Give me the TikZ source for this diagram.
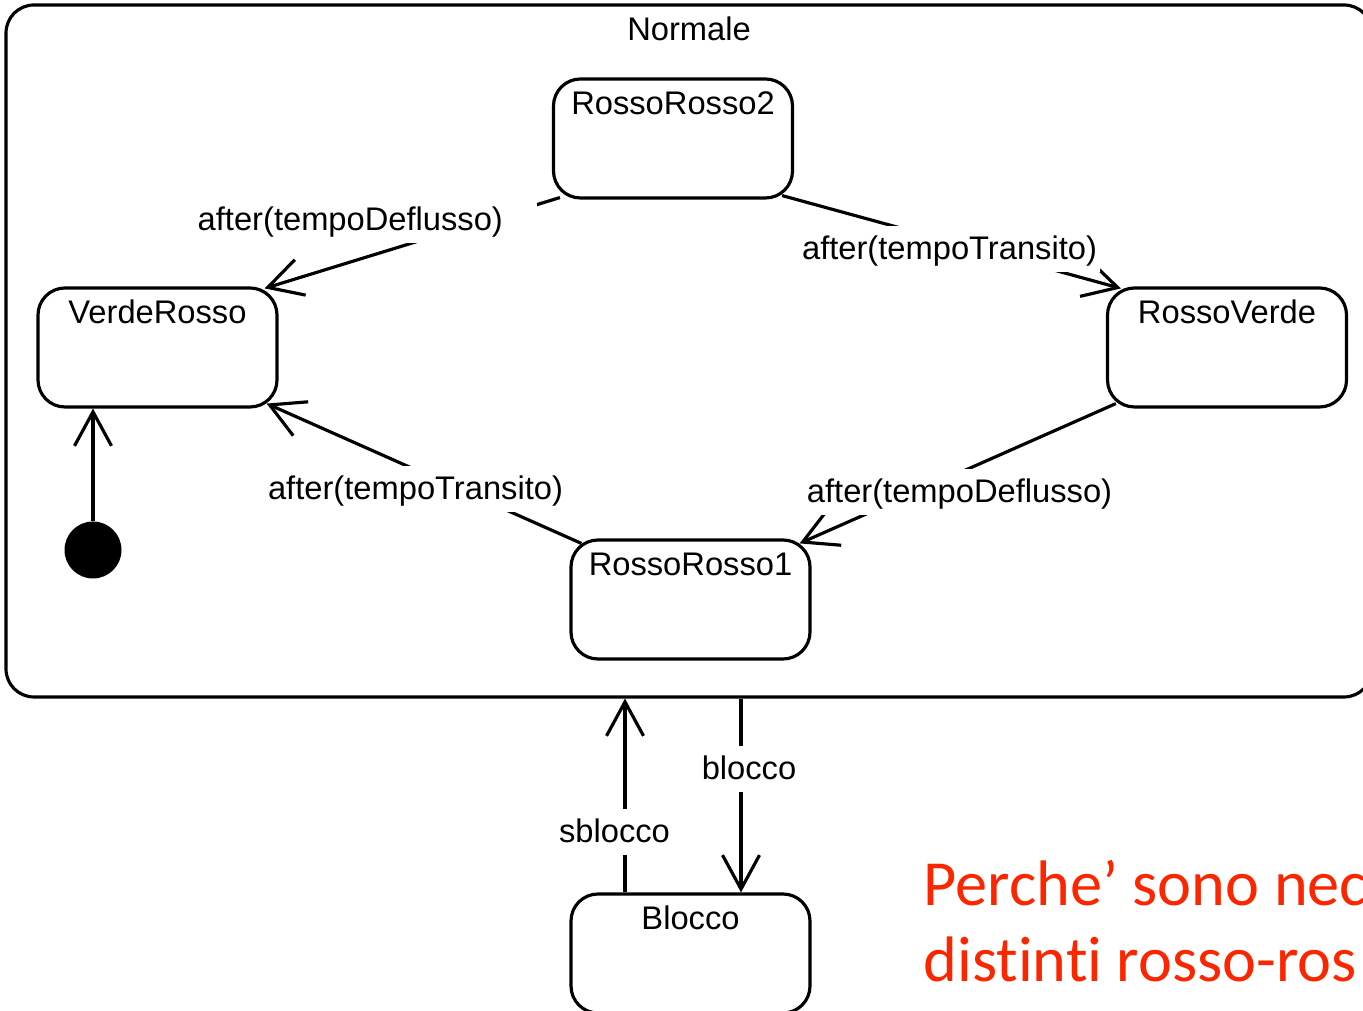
\documentclass[tikz,border=0pt]{standalone}
\usepackage{fontspec}
\setmainfont[Ligatures=NoCommon]{Liberation Sans}
\newfontfamily\calibrifont[Ligatures=NoCommon]{Carlito}
\usepackage{tikz}
\usetikzlibrary{arrows.meta}
\definecolor{avviso}{RGB}{250,38,0}
\tikzset{state/.style={draw, line width=0.9pt, rounded corners=0.27cm, minimum width=2.39cm, inner sep=0.08cm, text height=0.28cm, text depth=0.75cm}}
\tikzset{trans/.style={line width=0.9pt, -{Straight Barb[length=0.34cm,width=0.37cm]}}}
\tikzset{evento/.style={fill=white, inner sep=1pt, text height=8.8pt, text depth=2.3pt, anchor=base}}

\begin{document}
\begin{tikzpicture}[font=\fontsize{9.3pt}{11pt}\selectfont]
\useasboundingbox (0,0) rectangle (13.63,10.11);
\clip (0,0) rectangle (13.63,10.11);
% stato composto
\node[state, rounded corners=0.28cm, minimum width=13.66cm, text depth=6.48cm] (normale) at (6.89,6.60) {Normale};
\node[state] (rr2) at (6.73,8.725) {RossoRosso2};
\node[state] (vr) at (1.575,6.635) {VerdeRosso};
\node[state] (rv) at (12.27,6.635) {RossoVerde};
\node[state] (rr1) at (6.905,4.115) {RossoRosso1};
\node[state] (blk) at (6.905,0.575) {Blocco};
\node[circle, fill, minimum size=0.57cm, inner sep=0pt] (init) at (0.93,4.61) {};
\coordinate (sb) at ([xshift=-0.655cm]blk.north);
\coordinate (bl) at ([xshift=0.505cm]blk.north);

\draw[trans] (init) -- (init |- vr.south);
\draw[trans] ([shift={(0.08,0.02)}]rr2.south west) -- ([shift={(-0.14,-0.02)}]vr.north east);
\draw[trans] ([shift={(-0.12,0.04)}]rr2.south east) -- ([shift={(0.15,-0.02)}]rv.north west);
\draw[trans] ([shift={(0.12,-0.05)}]rr1.north west) -- ([shift={(-0.12,0.05)}]vr.south east);
\draw[trans] ([shift={(0.10,0.05)}]rv.south west) -- ([shift={(-0.12,-0.05)}]rr1.north east);
\draw[trans] (bl |- normale.south) -- (bl);
\draw[trans] (sb) -- (sb |- normale.south);

% etichette
\node[evento, anchor=base west] (l1) at (1.935,7.80) {after(tempoDeflusso)\hspace*{0.31cm}};
\node[evento] (l2) at (9.495,7.51) {after(tempoTransito)};
\node[evento] (l3) at (4.155,5.11) {after(tempoTransito)};
\node[evento] (l4) at (9.595,5.08) {after(tempoDeflusso)};
\node[evento] (l5) at (7.49,2.31) {blocco};
\node[evento] (l6) at (6.145,1.68) {sblocco};

\node[anchor=base west, align=left, text=avviso, inner sep=0pt, font=\calibrifont\fontsize{18.3pt}{21.9pt}\selectfont] (nota) at (9.23,0.29) {Perche’ sono nec\\distinti rosso-ros};
\end{tikzpicture}
\end{document}
